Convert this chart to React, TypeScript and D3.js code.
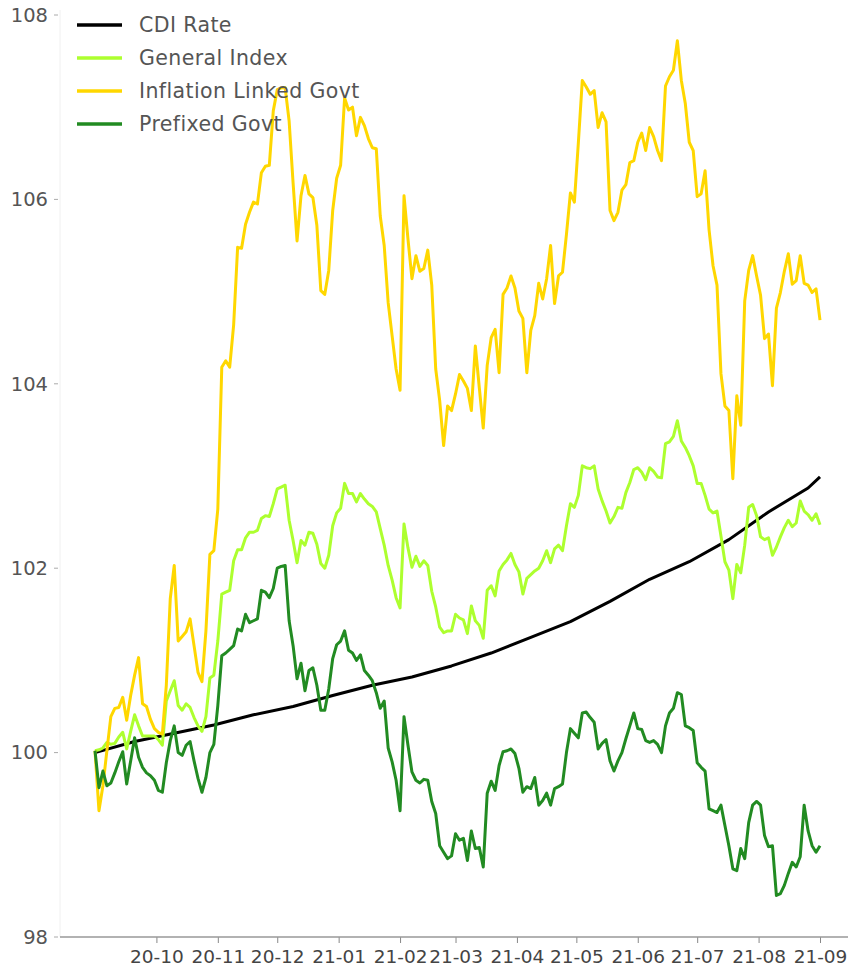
import React, { useEffect, useRef } from "react";
import * as d3 from "d3";

// index series, one reading every 2 calendar days from the start date
const startDate = "2020-08-31";
const stepDays = 2;

const inflationLinked = [
  100.02, 99.37, 99.64, 100.02, 100.39, 100.48, 100.49, 100.6, 100.35, 100.62,
  100.84, 101.03, 100.53, 100.5, 100.36, 100.26, 100.22, 100.2, 100.73, 101.67,
  102.03, 101.21, 101.26, 101.31, 101.45, 101.16, 100.87, 100.77, 101.32, 102.15,
  102.19, 102.64, 104.18, 104.25, 104.18, 104.64, 105.48, 105.47, 105.73, 105.86,
  105.97, 105.95, 106.29, 106.36, 106.37, 106.96, 107.19, 107.21, 107.21, 106.85,
  106.18, 105.55, 106.04, 106.26, 106.06, 106.02, 105.72, 105.01, 104.97, 105.23,
  105.88, 106.23, 106.37, 107.1, 106.97, 107.0, 106.69, 106.89, 106.8, 106.66,
  106.56, 106.55, 105.82, 105.5, 104.88, 104.52, 104.16, 103.93, 106.04, 105.57,
  105.14, 105.39, 105.22, 105.25, 105.45, 105.07, 104.16, 103.82, 103.33, 103.76,
  103.71, 103.89, 104.1, 104.03, 103.95, 103.71, 104.41, 103.96, 103.52, 104.2,
  104.5, 104.59, 104.12, 104.97, 105.04, 105.17, 105.04, 104.79, 104.71, 104.12,
  104.58, 104.74, 105.09, 104.92, 105.14, 105.5, 104.87, 105.17, 105.21, 105.62,
  106.07, 105.97, 106.61, 107.29, 107.22, 107.14, 107.18, 106.78, 106.94, 106.84,
  105.88, 105.77, 105.86, 106.1, 106.16, 106.4, 106.42, 106.62, 106.72, 106.53,
  106.78, 106.68, 106.53, 106.42, 107.23, 107.33, 107.4, 107.72, 107.29, 107.04,
  106.62, 106.53, 106.03, 106.06, 106.31, 105.67, 105.28, 105.07, 104.11, 103.76,
  103.71, 102.97, 103.87, 103.55, 104.9, 105.23, 105.39, 105.17, 104.96, 104.49,
  104.54, 103.98, 104.82, 104.99, 105.22, 105.41, 105.08, 105.12, 105.39, 105.09,
  105.07, 104.99, 105.03, 104.69,
];

const generalIndex = [
  100.02, 100.03, 100.05, 100.11, 100.09, 100.1, 100.17, 100.22, 100.04, 100.23,
  100.41, 100.29, 100.18, 100.18, 100.18, 100.18, 100.14, 100.08, 100.56, 100.67,
  100.78, 100.51, 100.46, 100.53, 100.49, 100.38, 100.29, 100.23, 100.39, 100.81,
  100.84, 101.21, 101.72, 101.74, 101.76, 102.08, 102.2, 102.2, 102.33, 102.39,
  102.39, 102.41, 102.54, 102.57, 102.56, 102.7, 102.86, 102.88, 102.9, 102.52,
  102.3, 102.06, 102.3, 102.25, 102.39, 102.38, 102.26, 102.05, 102.0, 102.14,
  102.46, 102.6, 102.65, 102.92, 102.81, 102.81, 102.72, 102.81, 102.75, 102.7,
  102.67, 102.61, 102.43, 102.25, 102.03, 101.87, 101.68, 101.57, 102.48, 102.22,
  102.01, 102.13, 102.02, 102.08, 102.03, 101.75, 101.58, 101.36, 101.3, 101.32,
  101.32, 101.5, 101.46, 101.44, 101.29, 101.59, 101.43, 101.38, 101.24, 101.76,
  101.81, 101.7, 101.97, 102.04, 102.09, 102.16, 102.04, 101.96, 101.72, 101.89,
  101.93, 101.97, 102.0, 102.08, 102.19, 102.06, 102.21, 102.25, 102.19, 102.46,
  102.7, 102.66, 102.79, 103.11, 103.09, 103.08, 103.11, 102.86, 102.73, 102.62,
  102.49, 102.56, 102.66, 102.65, 102.82, 102.93, 103.07, 103.09, 103.04, 102.96,
  103.09, 103.05, 102.99, 102.98, 103.35, 103.37, 103.43, 103.6, 103.38, 103.31,
  103.22, 103.11, 102.92, 102.92, 102.79, 102.64, 102.6, 102.62, 102.35, 102.07,
  101.98, 101.67, 102.04, 101.95, 102.25, 102.66, 102.69, 102.57, 102.34, 102.31,
  102.33, 102.14, 102.23, 102.34, 102.44, 102.52, 102.45, 102.49, 102.73, 102.62,
  102.58, 102.52, 102.59, 102.47,
];

const prefixedGovt = [
  100.02, 99.62, 99.8, 99.64, 99.67, 99.78, 99.9, 100.01, 99.66, 99.91,
  100.16, 99.95, 99.84, 99.78, 99.75, 99.7, 99.59, 99.57, 99.89, 100.13,
  100.29, 100.0, 99.97, 100.08, 100.12, 99.91, 99.72, 99.57, 99.73, 100.0,
  100.09, 100.51, 101.05, 101.08, 101.12, 101.16, 101.34, 101.32, 101.5, 101.41,
  101.43, 101.45, 101.76, 101.74, 101.68, 101.78, 102.0, 102.02, 102.03, 101.43,
  101.16, 100.8, 100.97, 100.67, 100.89, 100.92, 100.73, 100.46, 100.46, 100.69,
  101.02, 101.17, 101.21, 101.32, 101.11, 101.08, 101.0, 101.06, 100.89, 100.84,
  100.78, 100.65, 100.48, 100.56, 100.05, 99.9, 99.7, 99.37, 100.39, 100.08,
  99.79, 99.7, 99.67, 99.71, 99.7, 99.47, 99.34, 98.99, 98.92, 98.85,
  98.88, 99.12, 99.05, 99.07, 98.83, 99.15, 98.96, 98.97, 98.76, 99.56,
  99.69, 99.59, 99.86, 100.01, 100.02, 100.04, 99.99, 99.83, 99.57, 99.63,
  99.61, 99.73, 99.43, 99.48, 99.56, 99.43, 99.61, 99.63, 99.66, 100.0,
  100.26, 100.21, 100.16, 100.43, 100.44, 100.38, 100.33, 100.04, 100.1, 100.14,
  99.91, 99.8, 99.91, 100.0, 100.15, 100.29, 100.43, 100.26, 100.25, 100.13,
  100.11, 100.13, 100.09, 100.0, 100.29, 100.43, 100.48, 100.65, 100.63, 100.29,
  100.27, 100.24, 99.89, 99.84, 99.8, 99.39, 99.37, 99.35, 99.43, 99.21,
  98.99, 98.74, 98.72, 98.96, 98.85, 99.24, 99.43, 99.47, 99.43, 99.1,
  98.98, 98.99, 98.45, 98.47, 98.56, 98.69, 98.81, 98.76, 98.87, 99.43,
  99.15, 98.99, 98.92, 98.99,
];

// CDI is smooth, so it is read at fewer dates
const cdiDates = [
  "2020-08-31", "2020-09-20", "2020-10-10", "2020-10-30", "2020-11-19", "2020-12-09",
  "2020-12-29", "2021-01-18", "2021-02-07", "2021-02-27", "2021-03-19", "2021-04-08",
  "2021-04-28", "2021-05-18", "2021-06-07", "2021-06-27", "2021-07-17", "2021-08-06",
  "2021-08-26", "2021-09-01",
];
const cdiRate = [
  100.0, 100.12, 100.21, 100.3, 100.41, 100.5, 100.62, 100.73, 100.82, 100.94,
  101.08, 101.25, 101.42, 101.64, 101.88, 102.07, 102.31, 102.61, 102.87, 102.99,
];

const seriesNames = ["CDI Rate", "General Index", "Inflation Linked Govt", "Prefixed Govt"];
const seriesColors = ["#000000", "#adff2f", "#ffd700", "#228b22"];
const yTicks = [98, 100, 102, 104, 106, 108];
const xTickStart = "2020-10-01";
const xTickEnd = "2021-09-02";

const FONT = "'DejaVu Sans', sans-serif";

function App() {
  const ref = useRef<SVGSVGElement>(null);

  useEffect(() => {
    document.body.style.margin = "0";
    const W = 848, H = 971;
    const parse = d3.timeParse("%Y-%m-%d");
    const start = parse(startDate) as Date;
    const dates = inflationLinked.map((_, i) => d3.timeDay.offset(start, i * stepDays));

    const svg = d3.select(ref.current).attr("width", W).attr("height", H);
    svg.selectAll("*").remove();

    const x = d3.scaleTime()
      .domain([dates[0], dates[dates.length - 1]])
      .range([95, 820]);
    const y = d3.scaleLinear().domain([98, 108]).range([937, 15]);

    // faint left spine
    svg.append("line")
      .attr("x1", 60).attr("x2", 60).attr("y1", 10).attr("y2", 937)
      .attr("stroke", "#f0f0f0").attr("stroke-width", 1);

    // y labels
    const yg = svg.append("g");
    yg.selectAll("text")
      .data(yTicks)
      .join("text")
      .attr("x", 48)
      .attr("y", d => y(d))
      .attr("dy", "0.35em")
      .attr("text-anchor", "end")
      .style("font-family", FONT)
      .style("font-size", "19.5px")
      .style("fill", "#555")
      .text(d => d);
    yg.selectAll("line")
      .data(yTicks)
      .join("line")
      .attr("x1", 54).attr("x2", 58)
      .attr("y1", d => y(d)).attr("y2", d => y(d))
      .attr("stroke", "#aaa");

    // x axis
    const months = d3.timeMonth.range(parse(xTickStart) as Date, parse(xTickEnd) as Date);
    const xg = svg.append("g")
      .attr("transform", "translate(0,937)")
      .call(d3.axisBottom(x).tickValues(months).tickFormat(d3.timeFormat("%y-%m") as any).tickSize(6).tickPadding(7).tickSizeOuter(0));
    xg.select(".domain").remove();
    xg.selectAll(".tick line").attr("stroke", "#888");
    xg.selectAll(".tick text")
      .style("font-family", FONT)
      .style("font-size", "18.5px")
      .style("fill", "#444");
    svg.append("line")
      .attr("x1", 60).attr("x2", W).attr("y1", 937).attr("y2", 937)
      .attr("stroke", "#999").attr("stroke-width", 1.5);

    // lines
    const line = d3.line<[Date, number]>().x(d => x(d[0])).y(d => y(d[1]));
    const cdiPts = cdiDates.map((d, i) => [parse(d) as Date, cdiRate[i]] as [Date, number]);
    const seriesData = [
      cdiPts,
      dates.map((d, i) => [d, generalIndex[i]] as [Date, number]),
      dates.map((d, i) => [d, inflationLinked[i]] as [Date, number]),
      dates.map((d, i) => [d, prefixedGovt[i]] as [Date, number]),
    ];
    svg.append("g")
      .selectAll("path")
      .data(seriesData)
      .join("path")
      .attr("d", d => line(d))
      .attr("fill", "none")
      .attr("stroke", (_, i) => seriesColors[i])
      .attr("stroke-width", 3)
      .attr("stroke-linejoin", "round");

    // legend
    const lg = svg.append("g").selectAll("g")
      .data(seriesNames)
      .join("g")
      .attr("transform", (_, i) => `translate(77,${25 + i * 33})`);
    lg.append("line")
      .attr("x1", 0).attr("x2", 45)
      .attr("stroke", (_, i) => seriesColors[i])
      .attr("stroke-width", 3.5);
    lg.append("text")
      .attr("x", 62)
      .attr("dy", "0.36em")
      .style("font-family", FONT)
      .style("font-size", "20.5px")
      .style("letter-spacing", "0.4px")
      .style("fill", "#555")
      .text(d => d);
  }, []);

  return <svg ref={ref} style={{ display: "block" }}></svg>;
}

export default App;
